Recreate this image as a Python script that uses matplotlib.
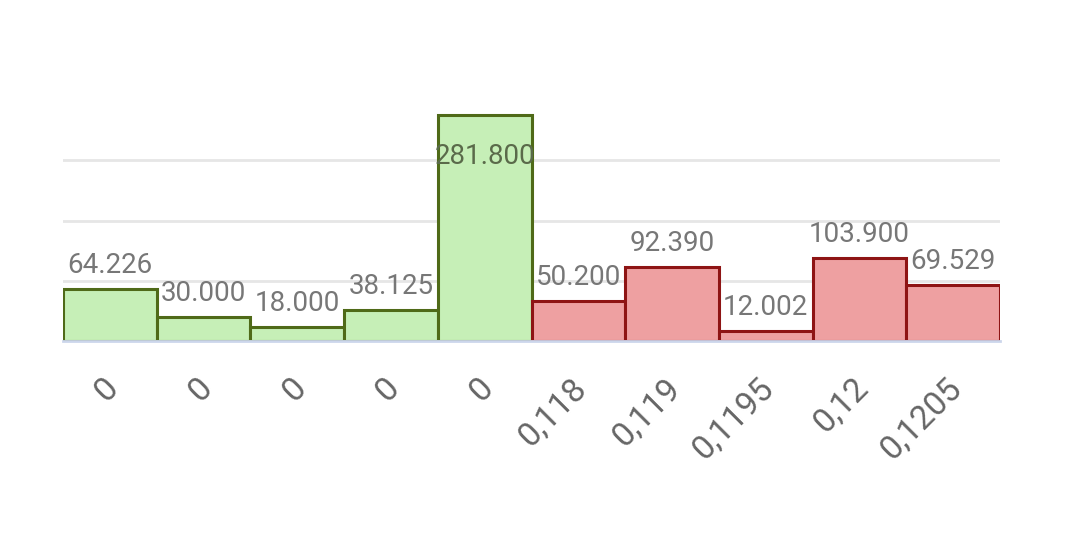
import matplotlib
matplotlib.use("Agg")
import matplotlib.pyplot as plt
import matplotlib.transforms as mtransforms

categories = ["0", "0", "0", "0", "0", "0,118", "0,119", "0,1195", "0,12", "0,1205"]
values = [64.226, 30.000, 18.000, 38.125, 281.800, 50.200, 92.390, 12.002, 103.900, 69.529]
value_labels = ["64.226", "30.000", "18.000", "38.125", "281.800", "50.200", "92.390", "12.002", "103.900", "69.529"]
group = ["g", "g", "g", "g", "g", "r", "r", "r", "r", "r"]
y_ticks = [75, 150, 225]

fills = {"g": "#c6efb7", "r": "#eea0a1"}
edges = {"g": "#4f6a18", "r": "#8e1414"}

plt.rcParams["font.family"] = ["Roboto", "DejaVu Sans"]
fig = plt.figure(figsize=(10.79, 5.34), dpi=100)
ax = fig.add_axes([63 / 1079, (534 - 341) / 534, (1000 - 63) / 1079, (341 - 100) / 534])

x = list(range(len(values)))
ax.bar(x, values, width=1.0,
       color=[fills[g] for g in group],
       edgecolor=[edges[g] for g in group],
       linewidth=2.2, zorder=3)

ax.set_xlim(-0.5, len(values) - 0.5)
ax.set_ylim(0, 300)
ax.set_yticks(y_ticks)
ax.yaxis.grid(True, color="#e6e6e6", linewidth=2, zorder=0)
ax.tick_params(axis="y", left=False, labelleft=False)
ax.tick_params(axis="x", bottom=False, pad=19)
for s in ["top", "right", "left"]:
    ax.spines[s].set_visible(False)
ax.spines["bottom"].set_color("#ccd6eb")
ax.spines["bottom"].set_linewidth(2)
ax.spines["bottom"].set_zorder(4)

ax.set_xticks(x)
ax.set_xticklabels(categories, rotation=45, ha="right", va="top",
                   rotation_mode="anchor", fontsize=24, color="#666666")
shift = mtransforms.ScaledTranslation(-8 / 100, 0, fig.dpi_scale_trans)
for t in ax.get_xticklabels():
    t.set_transform(t.get_transform() + shift)

for xi, v, lab in zip(x, values, value_labels):
    if v > 260:
        ax.annotate(lab, (xi, v), xytext=(0, -28), textcoords="offset pixels",
                    ha="center", va="top", fontsize=20, color="#5a6a4a", zorder=5)
    else:
        ax.annotate(lab, (xi, v), xytext=(0, 16), textcoords="offset pixels",
                    ha="center", va="baseline", fontsize=20, color="#777777", zorder=5)

fig.savefig("out.png", dpi=100)
